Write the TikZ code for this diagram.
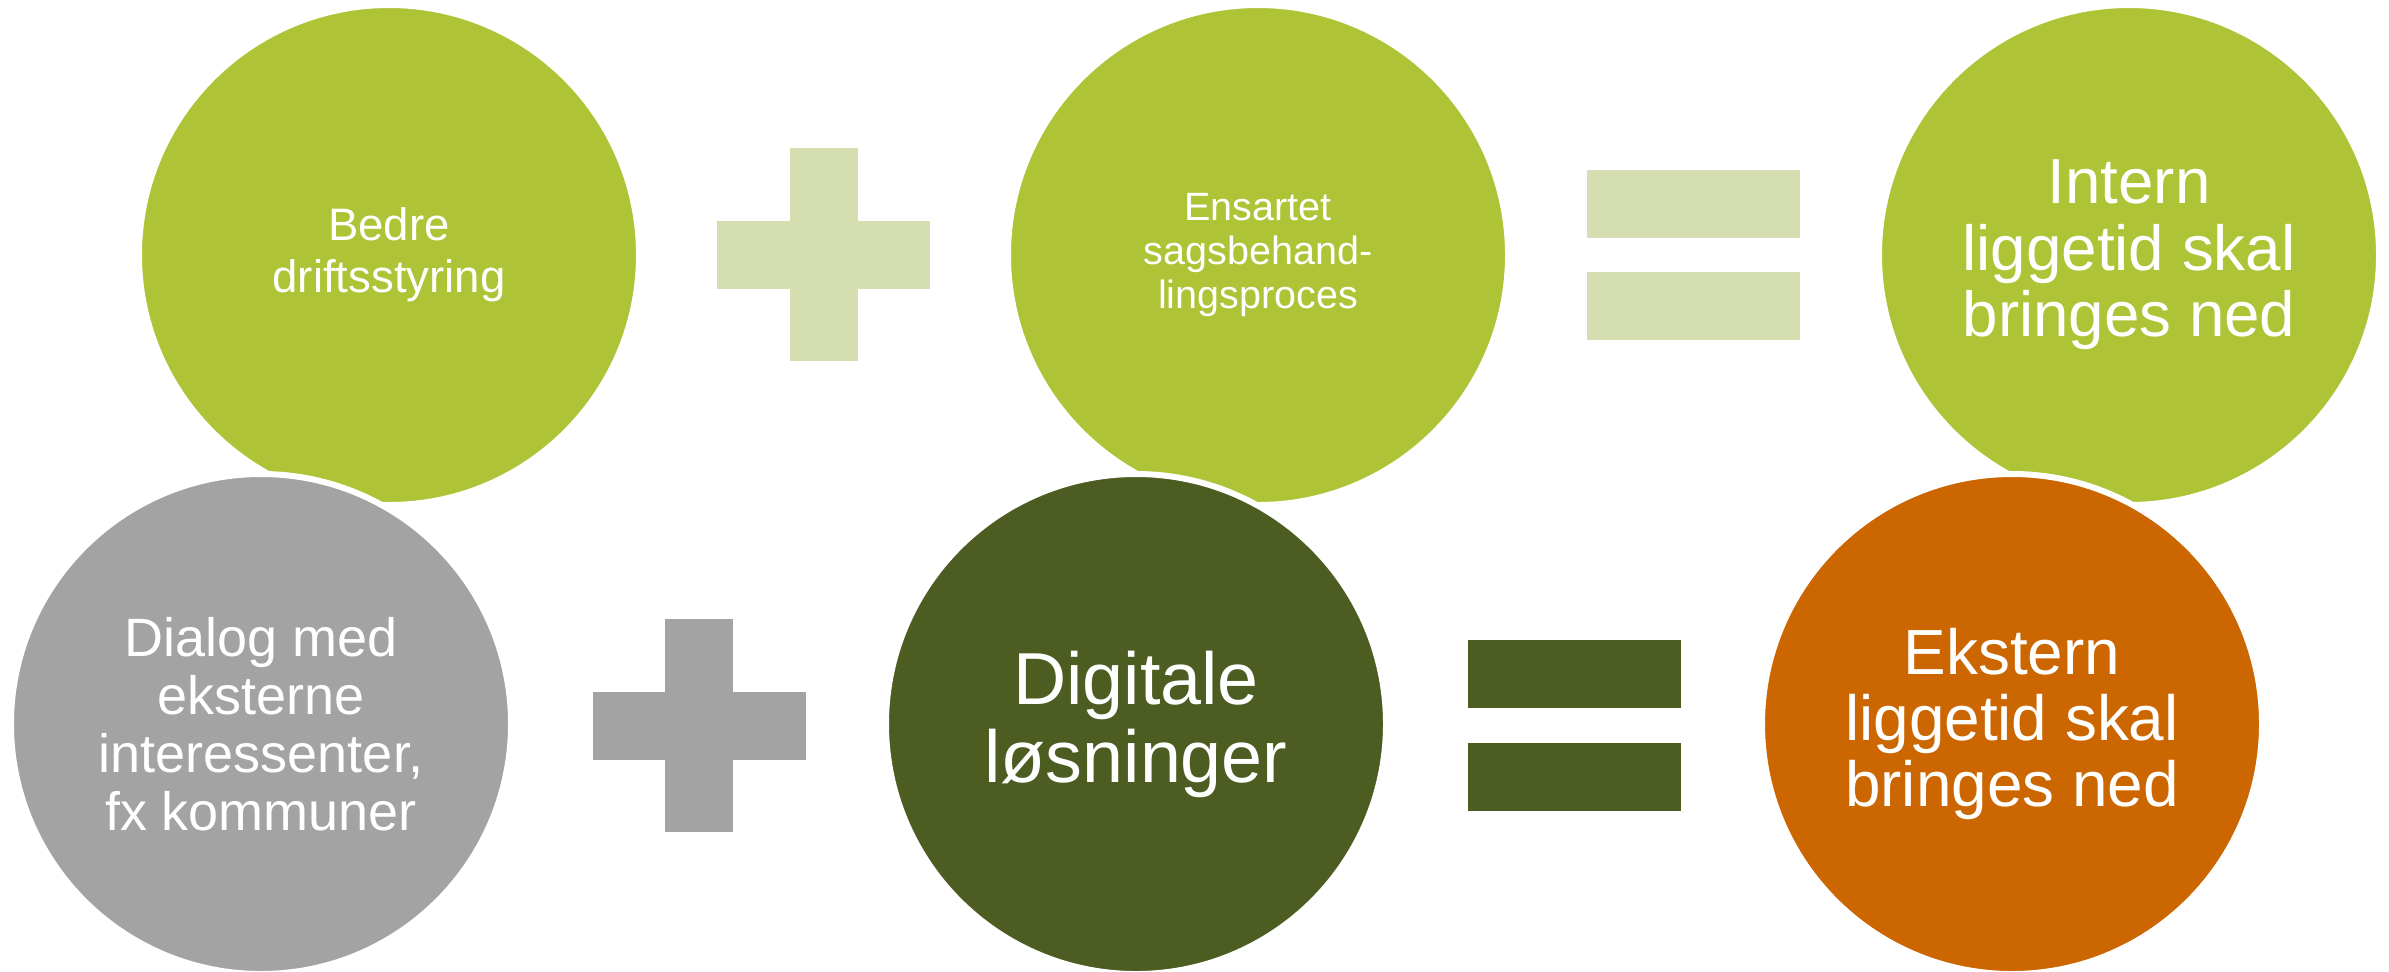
\documentclass[tikz,border=0pt]{standalone}
\usepackage{fontspec}
\setmainfont{Liberation Sans}
\usepackage{tikz}

\definecolor{ltgreen}{HTML}{AEC336}
\definecolor{ltbar}{HTML}{D5DEB0}
\definecolor{midgray}{HTML}{A3A3A3}
\definecolor{dkgreen}{HTML}{4D5C21}
\definecolor{burnt}{HTML}{CC6600}

\begin{document}
\begin{tikzpicture}[x=0.25mm, y=-0.25mm]
    \tikzstyle{ball} = [circle, minimum size=125mm, inner sep=0pt, draw=white, line width=1.5mm, text=white, align=center]
    \tikzstyle{bar} = [rectangle, inner sep=0pt, draw=none]
    \tikzstyle{vbar} = [bar, minimum width=17mm, minimum height=53.25mm]
    \tikzstyle{hbar} = [bar, minimum width=53.25mm, minimum height=17mm]
    \useasboundingbox (0,0) rectangle (2389,971);

    % top row
    \node[ball, fill=ltgreen, font=\fontsize{32.4}{36.8}\selectfont] (drift) at (389,255) {Bedre\\driftsstyring};
    \node[ball, fill=ltgreen, font=\fontsize{28.1}{31.5}\selectfont] (sags) at (1258,255) {Ensartet\\sagsbehand-\\lingsproces};
    \node[ball, fill=ltgreen, font=\fontsize{45.3}{47.2}\selectfont] (intern) at (2129,255) {Intern\\liggetid skal\\bringes ned};

    \node[vbar, fill=ltbar] (plusAv) at (823.5,254.5) {};
    \node[hbar, fill=ltbar] (plusAh) at (823.5,254.5) {};
    \foreach \y/\n in {204/a, 306/b}
    \node[hbar, fill=ltbar] (eqA\n) at (1693.5,\y) {};

    % bottom row
    \node[vbar, fill=midgray] (plusBv) at (699,725.5) {};
    \node[hbar, fill=midgray] (plusBh) at (699,725.5) {};
    \foreach \y/\n in {674/a, 777/b}
    \node[hbar, fill=dkgreen] (eqB\n) at (1574,\y) {};

    \node[ball, fill=midgray, font=\fontsize{38.4}{41.3}\selectfont] (dialog) at (261,724) {Dialog med\\eksterne\\interessenter,\\fx kommuner};
    \node[ball, fill=dkgreen, font=\fontsize{52.4}{55.5}\selectfont] (digital) at (1136,724) {Digitale\\løsninger};
    \node[ball, fill=burnt, font=\fontsize{45.4}{47}\selectfont] (ekstern) at (2012,724) {Ekstern\\liggetid skal\\bringes ned};
\end{tikzpicture}
\end{document}
